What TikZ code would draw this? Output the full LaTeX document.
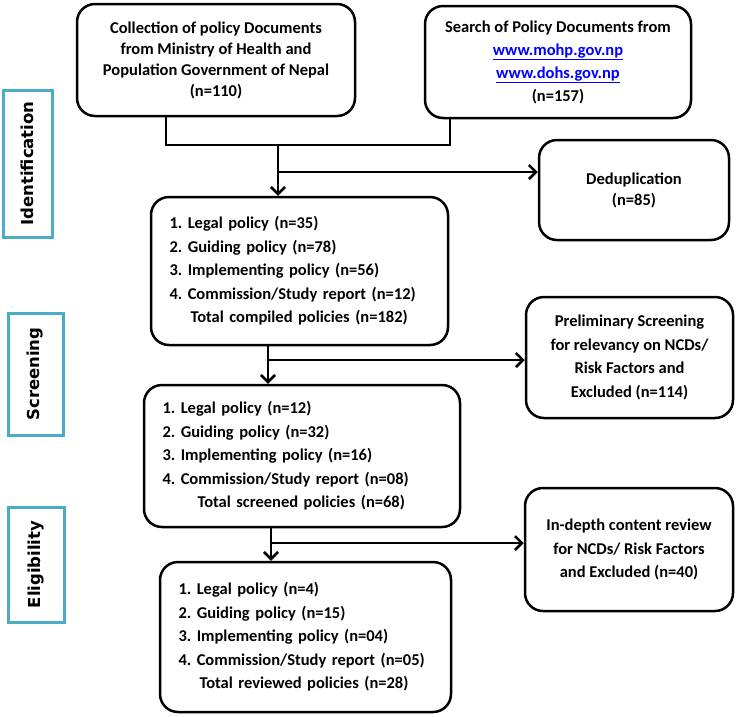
\documentclass[tikz,border=0pt]{standalone}
\usepackage{fontspec}
\setmainfont{Carlito}
\newfontfamily\sidefont{DejaVu Sans}
\usetikzlibrary{arrows.meta}
\frenchspacing

\definecolor{stageblue}{RGB}{75,172,198}
\definecolor{linkblue}{RGB}{0,0,255}

\tikzset{
  flowbox/.style={draw, line width=2.5pt, rounded corners=18pt, align=center,
    inner sep=0pt, font=\fontsize{16.5}{21}\selectfont\bfseries},
  listbox/.style={flowbox, align=left, inner xsep=18.5pt,
    font=\fontsize{16.5}{23.5}\selectfont\bfseries},
  stagebox/.style={draw=stageblue, line width=3pt, rotate=90, inner sep=0pt,
    font=\sidefont\bfseries\fontsize{16.5}{18}\selectfont},
  flowline/.style={line width=2.5pt},
  flowarrow/.style={flowline, -{Straight Barb[length=7pt,width=14pt]}},
}

\begin{document}
\begin{tikzpicture}[x=1pt,y=-1pt]

  \useasboundingbox (0,0) rectangle (736,716);

  % Draw the source boxes
  \node[flowbox, minimum width=278pt, minimum height=112pt] (src1) at (216,60)
    {Collection of policy Documents\\from Ministry of Health and\\Population Government of Nepal\\(n=110)};
  \node[flowbox, minimum width=266pt, minimum height=112pt] (src2) at (558,62)
    {Search of Policy Documents from\\[2pt]
     \textcolor{linkblue}{\underline{www.mohp.gov.np}}\\[2pt]
     \textcolor{linkblue}{\underline{www.dohs.gov.np}}\\[2pt]
     (n=157)};

  % Draw the main column of boxes
  \node[listbox, text width=260pt, minimum height=148pt] (compiled) at (299.5,271) {%
    1. Legal policy (n=35)\\
    2. Guiding policy (n=78)\\
    3. Implementing policy (n=56)\\
    4. Commission/Study report (n=12)\\
    \hspace*{21pt}Total compiled policies (n=182)};
  \node[listbox, text width=279pt, minimum height=142pt] (screened) at (302,456) {%
    1. Legal policy (n=12)\\
    2. Guiding policy (n=32)\\
    3. Implementing policy (n=16)\\
    4. Commission/Study report (n=08)\\
    \hspace*{35pt}Total screened policies (n=68)};
  \node[listbox, text width=254pt, minimum height=150pt] (reviewed) at (305.5,637) {%
    1. Legal policy (n=4)\\
    2. Guiding policy (n=15)\\
    3. Implementing policy (n=04)\\
    4. Commission/Study report (n=05)\\
    \hspace*{21pt}Total reviewed policies (n=28)};

  % Draw the excluded boxes
  \node[flowbox, minimum width=190pt, minimum height=100pt] (dedup) at (634,190)
    {Deduplication\\(n=85)};
  \node[flowbox, minimum width=207pt, minimum height=121pt,
    font=\fontsize{16.5}{23.5}\selectfont\bfseries] (prelim) at (629.5,357.5)
    {Preliminary Screening\\for relevancy on NCDs/\\Risk Factors and\\Excluded (n=114)};
  \node[flowbox, minimum width=208pt, minimum height=123pt,
    font=\fontsize{16.5}{23.5}\selectfont\bfseries] (indepth) at (629,549.5)
    {In-depth content review\\for NCDs/ Risk Factors\\and Excluded (n=40)};

  % Draw the stage labels
  \node[stagebox, minimum width=147pt, minimum height=49pt] (ident) at (27.5,163.5) {Identification};
  \node[stagebox, minimum width=122pt, minimum height=55pt] (screen) at (35.5,374) {Screening};
  \node[stagebox, minimum width=115pt, minimum height=56pt] (elig) at (36,564.5) {Eligibility};

  % Join points of the connectors
  \coordinate (joinL) at (166,145);
  \coordinate (joinR) at (450,145);
  \coordinate (joinM) at (278,145);
  \coordinate (split1) at (278,172);
  \coordinate (split2) at (268,360);
  \coordinate (split3) at (271,543);

  % Draw the connectors
  \draw[flowline] (src1.south -| joinL) -- (joinL) -- (joinR) -- (src2.south -| joinR);
  \draw[flowarrow] (joinM) -- (joinM |- compiled.north);
  \draw[flowarrow] (split1) -- (split1 -| dedup.west);

  \draw[flowarrow] (compiled.south -| split2) -- (screened.north -| split2);
  \draw[flowarrow] (split2) -- (split2 -| prelim.west);

  \draw[flowarrow] (screened.south -| split3) -- (reviewed.north -| split3);
  \draw[flowarrow] (split3) -- (split3 -| indepth.west);

\end{tikzpicture}
\end{document}
